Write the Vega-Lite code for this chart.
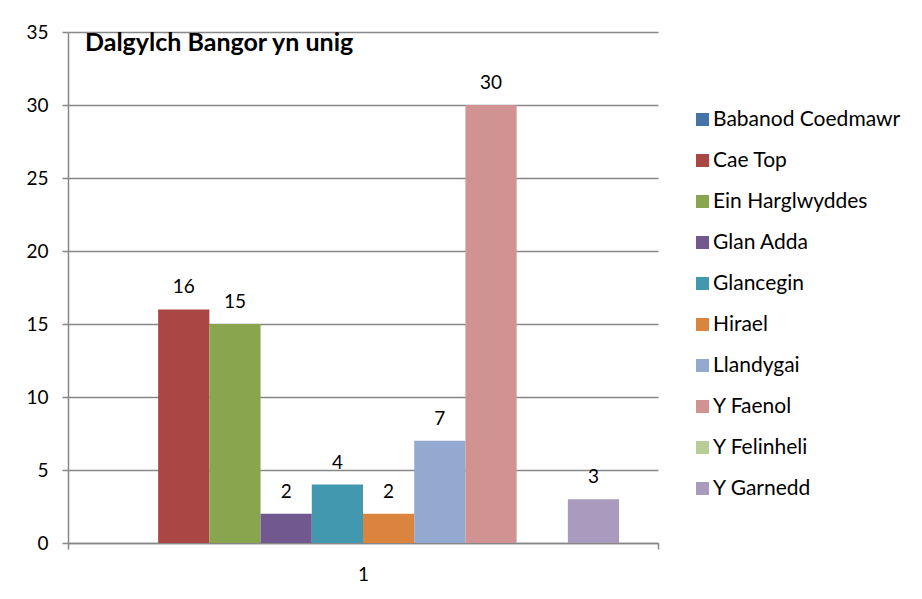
{
  "$schema": "https://vega.github.io/schema/vega-lite/v6.json",
  "autosize": "none",
  "width": 590,
  "height": 511,
  "padding": {"left": 68, "top": 32, "right": 264, "bottom": 56},
  "background": "white",
  "title": {
    "text": "Dalgylch Bangor yn unig",
    "anchor": "start",
    "frame": "group",
    "font": "Lato",
    "fontSize": 25,
    "fontWeight": "bold",
    "color": "black",
    "baseline": "alphabetic",
    "offset": 0,
    "dx": 17,
    "dy": 53
  },
  "config": {
    "view": {"stroke": null},
    "font": "Lato",
    "axis": {"labelFont": "Lato", "labelColor": "black", "domainColor": "#878787", "tickColor": "#878787", "gridColor": "#878787", "domainWidth": 1.5, "tickWidth": 1.5}
  },
  "data": {
    "values": [
      {"cat": "1", "school": "Babanod Coedmawr", "value": 0},
      {"cat": "1", "school": "Cae Top", "value": 16},
      {"cat": "1", "school": "Ein Harglwyddes", "value": 15},
      {"cat": "1", "school": "Glan Adda", "value": 2},
      {"cat": "1", "school": "Glancegin", "value": 4},
      {"cat": "1", "school": "Hirael", "value": 2},
      {"cat": "1", "school": "Llandygai", "value": 7},
      {"cat": "1", "school": "Y Faenol", "value": 30},
      {"cat": "1", "school": "Y Felinheli", "value": 0},
      {"cat": "1", "school": "Y Garnedd", "value": 3}
    ]
  },
  "encoding": {
    "x": {
      "field": "cat", "type": "nominal",
      "scale": {"paddingInner": 0, "paddingOuter": 0},
      "axis": {"title": null, "labelAngle": 0, "labelFontSize": 19, "tickBand": "extent", "tickSize": 6, "labelPadding": 16, "grid": false}
    },
    "xOffset": {
      "field": "school", "type": "nominal",
      "scale": {"paddingInner": 0, "paddingOuter": 0.76}
    },
    "y": {
      "field": "value", "type": "quantitative",
      "scale": {"domain": [0, 35], "nice": false},
      "axis": {"title": null, "values": [0, 5, 10, 15, 20, 25, 30, 35], "labelFontSize": 19, "tickSize": 6, "labelPadding": 14, "grid": true, "gridWidth": 1.5}
    }
  },
  "layer": [
    {
      "mark": {"type": "bar"},
      "encoding": {
        "color": {
          "field": "school", "type": "nominal",
          "scale": {
            "domain": ["Babanod Coedmawr", "Cae Top", "Ein Harglwyddes", "Glan Adda", "Glancegin", "Hirael", "Llandygai", "Y Faenol", "Y Felinheli", "Y Garnedd"],
            "range": ["#4572A7", "#AA4643", "#89A54E", "#71588F", "#4198AF", "#DB843D", "#93A9CF", "#D19392", "#B9CD96", "#A99BBD"]
          },
          "legend": {
            "title": null,
            "orient": "none",
            "legendX": 624,
            "legendY": 77,
            "padding": 0,
            "symbolType": "square",
            "symbolSize": 169,
            "symbolStrokeWidth": 0,
            "labelFont": "Lato",
            "labelFontSize": 21,
            "labelColor": "black",
            "labelOffset": 0,
            "rowPadding": 19,
            "labelLimit": 300
          }
        }
      }
    },
    {
      "transform": [{"filter": "datum.value > 0"}],
      "mark": {"type": "text", "baseline": "alphabetic", "dy": -16, "fontSize": 19, "font": "Lato", "color": "black"},
      "encoding": {
        "text": {"field": "value", "type": "quantitative"}
      }
    }
  ]
}
